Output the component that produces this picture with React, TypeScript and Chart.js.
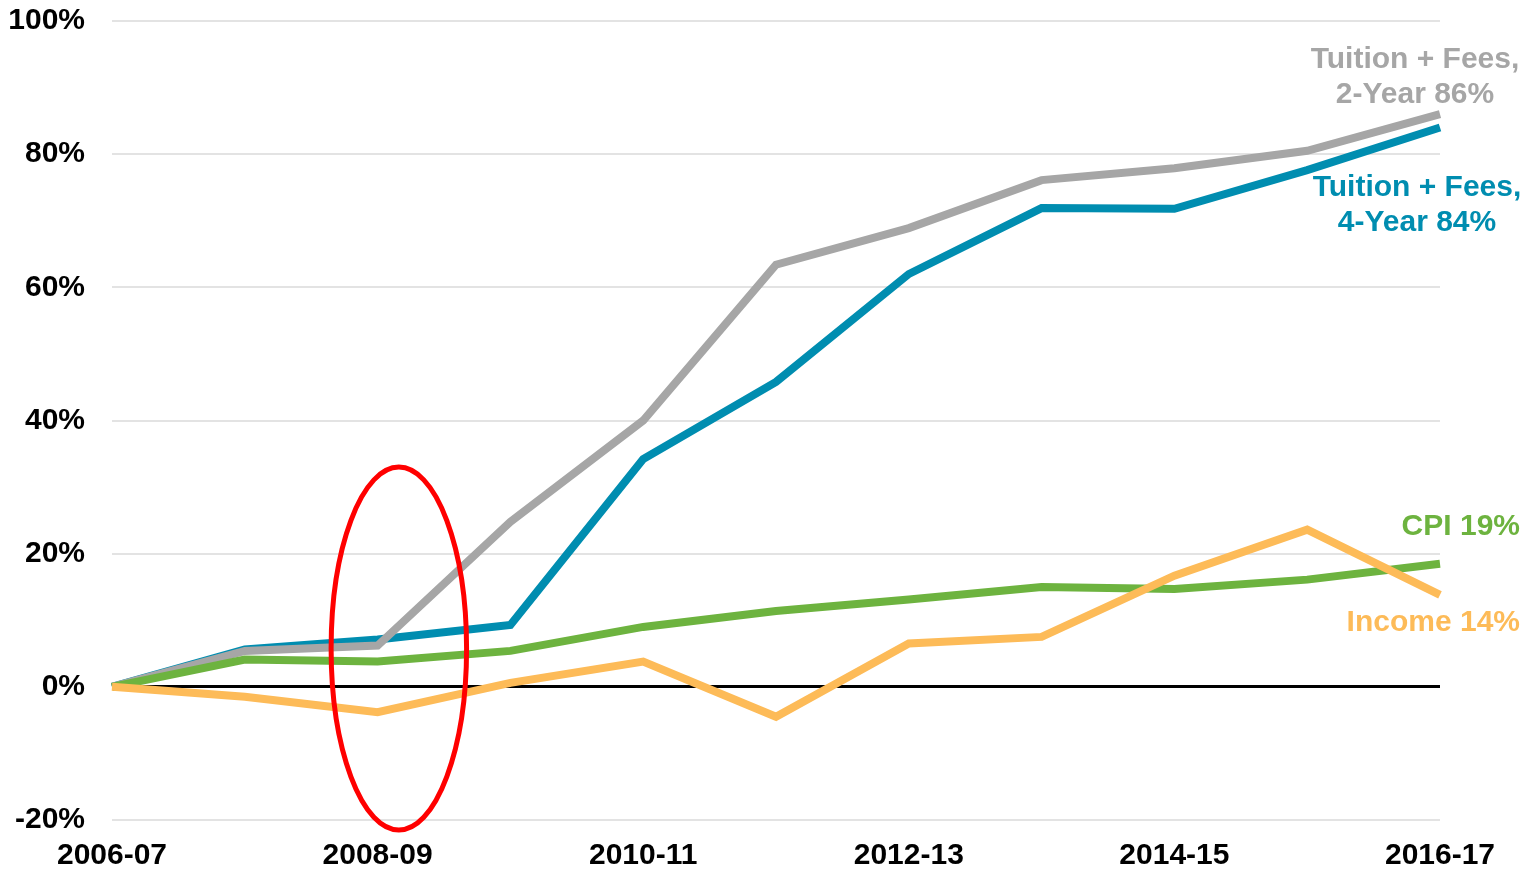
import React, { useEffect, useRef } from "react";
import { Chart, registerables } from "chart.js";

Chart.register(...registerables);

const categories = [
  "2006-07", "2007-08", "2008-09", "2009-10", "2010-11", "2011-12",
  "2012-13", "2013-14", "2014-15", "2015-16", "2016-17",
];
const tuition2Year = [0, 5.4, 6.2, 24.8, 40, 63.4, 68.9, 76.1, 77.9, 80.5, 86];
const tuition4Year = [0, 5.6, 7.1, 9.3, 34.2, 45.8, 62, 71.9, 71.8, 77.6, 84];
const cpi = [0, 4.1, 3.8, 5.4, 9, 11.4, 13.1, 15, 14.7, 16.1, 18.5];
const income = [0, -1.5, -3.8, 0.6, 3.8, -4.5, 6.5, 7.5, 16.7, 23.6, 13.8];
const yTicks = [-20, 0, 20, 40, 60, 80, 100];

const GRAY = "#a6a6a6";
const BLUE = "#008db0";
const GREEN = "#6db33f";
const ORANGE = "#fdbb58";
const FONT_FAMILY = '"Liberation Sans", Arial, sans-serif';

const annotationPlugin = {
  id: "annotations",
  afterDatasetsDraw(chart: any) {
    const { ctx, scales } = chart;
    const xs = scales.x;
    const ys = scales.y;
    // red ellipse around 2008-09
    const cx = xs.getPixelForValue(2.16);
    const left = xs.getPixelForValue(1.65);
    const top = ys.getPixelForValue(33);
    const bottom = ys.getPixelForValue(-21.5);
    const cy = (top + bottom) / 2;
    ctx.save();
    ctx.beginPath();
    ctx.ellipse(cx, cy, cx - left, (bottom - top) / 2, 0, 0, Math.PI * 2);
    ctx.strokeStyle = "#ff0000";
    ctx.lineWidth = 5;
    ctx.stroke();

    ctx.font = `bold 30px ${FONT_FAMILY}`;
    ctx.textBaseline = "middle";
    ctx.textAlign = "center";
    ctx.fillStyle = GRAY;
    ctx.fillText("Tuition + Fees,", 1415, 60);
    ctx.fillText("2-Year 86%", 1415, 95);
    ctx.fillStyle = BLUE;
    ctx.fillText("Tuition + Fees,", 1417, 188);
    ctx.fillText("4-Year 84%", 1417, 223);
    ctx.textAlign = "right";
    ctx.fillStyle = GREEN;
    ctx.fillText("CPI 19%", 1520, 527);
    ctx.fillStyle = ORANGE;
    ctx.fillText("Income 14%", 1520, 623);
    ctx.restore();
  },
};

export default function App() {
  const ref = useRef<HTMLCanvasElement | null>(null);
  useEffect(() => {
    if (!ref.current) return;
    const line = (label: string, data: number[], color: string, order: number) => ({
      label,
      data,
      borderColor: color,
      backgroundColor: color,
      borderWidth: 8,
      pointRadius: 0,
      tension: 0,
      fill: false,
      order,
      borderJoinStyle: "miter" as const,
    });
    const chart = new Chart(ref.current, {
      type: "line",
      data: {
        labels: categories,
        datasets: [
          line("Tuition + Fees, 4-Year", tuition4Year, BLUE, 4),
          line("Tuition + Fees, 2-Year", tuition2Year, GRAY, 3),
          line("CPI", cpi, GREEN, 2),
          line("Income", income, ORANGE, 1),
        ],
      },
      options: {
        animation: false,
        responsive: true,
        maintainAspectRatio: false,
        layout: { padding: { left: 0, right: 92, top: 21, bottom: 0 } },
        plugins: {
          legend: { display: false },
          tooltip: { enabled: false },
        },
        scales: {
          x: {
            offset: false,
            grid: { display: false, drawTicks: false },
            border: { display: false },
            ticks: {
              autoSkip: false,
              maxRotation: 0,
              padding: 18,
              color: "#000",
              font: { family: FONT_FAMILY, size: 30, weight: "bold" },
              callback: (_v: any, i: number) => (i % 2 === 0 ? categories[i] : ""),
            },
            afterFit: (s: any) => {
              s.height = 49;
            },
          },
          y: {
            min: -20,
            max: 100,
            afterBuildTicks: (s: any) => {
              s.ticks = yTicks.map((v) => ({ value: v }));
            },
            grid: {
              drawTicks: true,
              tickLength: 27,
              tickColor: "rgba(0,0,0,0)",
              color: (c: any) => (c.tick && c.tick.value === 0 ? "#000" : "#e3e3e3"),
              lineWidth: (c: any) => (c.tick && c.tick.value === 0 ? 3 : 2),
            },
            border: { display: false },
            ticks: {
              padding: 0,
              color: "#000",
              font: { family: FONT_FAMILY, size: 30, weight: "bold" },
              callback: (v: any) => `${v}%`,
            },
            afterFit: (s: any) => {
              s.width = 112;
            },
          },
        },
      },
      plugins: [annotationPlugin],
    });
    return () => chart.destroy();
  }, []);
  return (
    <div style={{ position: "fixed", left: 0, top: 0, width: 1532, height: 869, background: "#fff" }}>
      <canvas ref={ref} />
    </div>
  );
}
